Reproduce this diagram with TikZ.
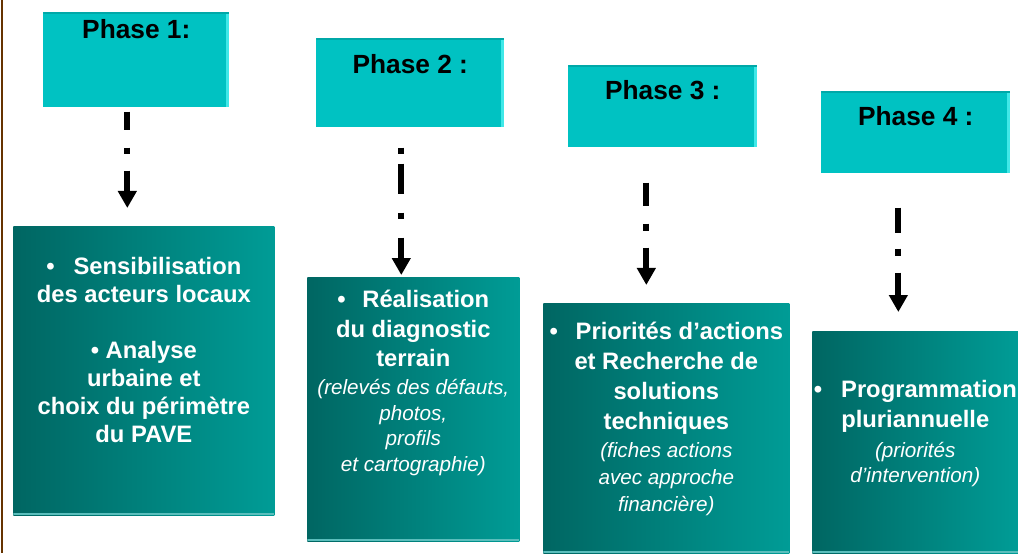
\documentclass[tikz,border=0pt]{standalone}
\usepackage{fontspec}
\setmainfont{Liberation Sans}
\usetikzlibrary{arrows.meta,positioning}

\definecolor{phasefill}{RGB}{0,194,194}
\definecolor{phaseside}{RGB}{64,232,232}
\definecolor{phasetop}{RGB}{0,168,168}
\definecolor{stepdark}{RGB}{0,102,98}
\definecolor{steplight}{RGB}{0,156,150}
\definecolor{stepedge}{RGB}{90,190,188}
\definecolor{framebrown}{RGB}{102,51,0}

\tikzset{
  phase/.style={fill=phasefill, inner sep=0pt, anchor=north west,
    font=\bfseries\fontsize{18.7}{22}\selectfont,
    path picture={
      \fill[phaseside] ([xshift=-2.1pt]path picture bounding box.north east) rectangle (path picture bounding box.south east);
      \fill[phasetop] (path picture bounding box.north west) rectangle ([yshift=-1.4pt]path picture bounding box.north east);}},
  stepbox/.style={left color=stepdark, right color=steplight, inner sep=0pt, anchor=north west,
    path picture={
      \fill[stepedge] ([yshift=1.4pt]path picture bounding box.south west) rectangle (path picture bounding box.south east);}},
  steptext/.style={text=white, align=center, inner sep=0pt, anchor=north,
    font=\bfseries\fontsize{16.9}{21}\selectfont},
  flow/.style={line width=4.3pt, -{Triangle[width=12.8pt,length=12.1pt]}}
}
\newcommand\detail[1]{{\mdseries\itshape\fontsize{14.7}{18}\selectfont #1}}

\begin{document}
\begin{tikzpicture}[x=0.025cm, y=-0.025cm]
\useasboundingbox (0,0) rectangle (1018,553);
\draw[framebrown, line width=1.4pt] (2,0) -- (2,553);

% phases
\node[phase, minimum width=132.3pt, text height=18.5pt, text depth=49.1pt] (p1) at (43,12) {Phase 1:};
\node[phase, minimum width=133.7pt, text height=24.9pt, text depth=38.4pt] (p2) at (316,38) {Phase 2 :};
\node[phase, minimum width=134.4pt, text height=24.2pt, text depth=34.1pt] (p3) at (568,65) {Phase 3 :};
\node[phase, minimum width=134.4pt, text height=24.2pt, text depth=34.1pt] (p4) at (821,91) {Phase 4 :};

% steps
\node[stepbox, minimum width=185.7pt, minimum height=205.6pt] (c1) at (13,226) {};
\node[stepbox, minimum width=150.8pt, minimum height=187.8pt] (c2) at (307,277) {};
\node[stepbox, minimum width=175.0pt, minimum height=177.8pt] (c3) at (543,303) {};
\node[stepbox, minimum width=146.5pt, minimum height=157.9pt] (c4) at (812,331) {};

\node[steptext, font=\bfseries\fontsize{16.9}{19.9}\selectfont] (t1) at ([yshift=-22pt]c1.north)
  {\textbullet\hspace{0.8em}Sensibilisation\\des acteurs locaux\\[19.9pt]
   \textbullet\ Analyse\\urbaine et\\choix du périmètre\\du PAVE};
\node[steptext] (t2) at ([yshift=-9.3pt]c2.north)
  {\textbullet\hspace{0.7em}Réalisation\\du diagnostic\\terrain\\[-1.1pt]
   \detail{(relevés des défauts,}\\[-2.9pt]\detail{photos,}\\[-2.9pt]
   \detail{profils}\\[-2.9pt]\detail{et cartographie)}};
\node[steptext, font=\bfseries\fontsize{16.9}{21.3}\selectfont] (t3) at ([yshift=-13.5pt]c3.north)
  {\textbullet\hspace{0.75em}Priorités d’actions\\et Recherche de\\solutions\\techniques\\[-1.4pt]
   \detail{(fiches actions}\\[-2.1pt]\detail{avec approche}\\[-2.1pt]\detail{financière)}};
\node[steptext, font=\bfseries\fontsize{16.9}{21.3}\selectfont] (t4) at ([yshift=-34.9pt]c4.north)
  {\textbullet\hspace{0.8em}Programmation\\pluriannuelle\\
   \detail{(priorités}\\[-3.5pt]\detail{d’intervention)}};

% arrows
\draw[flow, shorten <=2.8pt, shorten >=12.8pt,
  dash pattern=on 12.8pt off 12.8pt on 4.3pt off 12.1pt on 80pt off 0pt]
  ([xshift=-6.4pt]p1.south) -- ([xshift=-6.4pt]p1.south |- c1.north);
\draw[flow, shorten <=14.2pt, shorten >=1.4pt,
  dash pattern=on 4.3pt off 7.1pt on 21.3pt off 13.5pt on 4.3pt off 13.5pt on 80pt off 0pt]
  ([xshift=-6.4pt]p2.south) -- ([xshift=-6.4pt]p2.south |- c2.north);
\draw[flow, shorten <=24.9pt, shorten >=12.8pt,
  dash pattern=on 16.4pt off 12.8pt on 5pt off 12.1pt on 80pt off 0pt]
  ([xshift=-11.7pt]p3.south) -- ([xshift=-11.7pt]p3.south |- c3.north);
\draw[flow, shorten <=24.2pt, shorten >=13.5pt,
  dash pattern=on 17.8pt off 11.4pt on 5pt off 12.1pt on 80pt off 0pt]
  ([xshift=-12.4pt]p4.south) -- ([xshift=-12.4pt]p4.south |- c4.north);
\end{tikzpicture}
\end{document}
